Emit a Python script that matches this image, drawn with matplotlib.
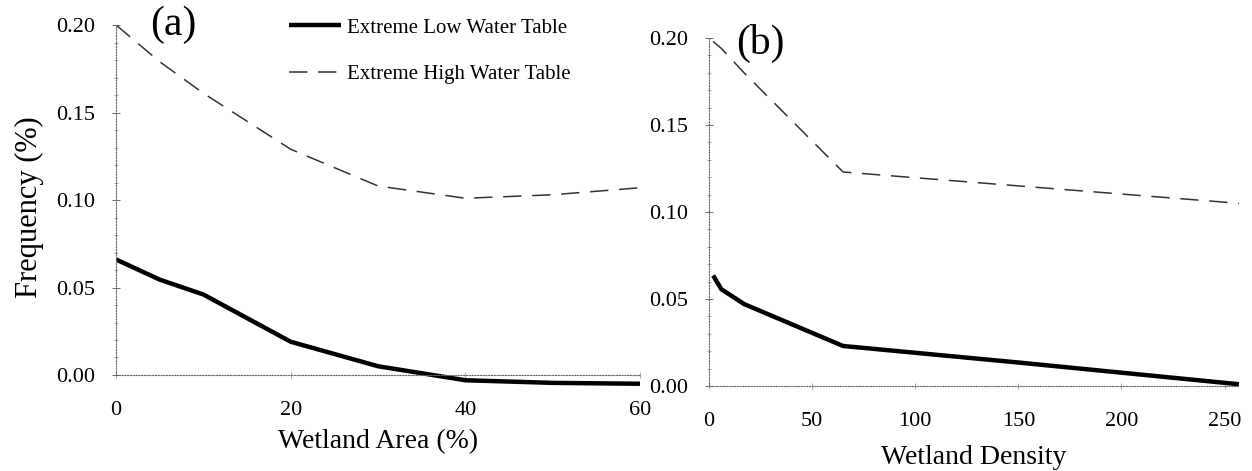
import matplotlib as mpl
mpl.use("Agg")
import matplotlib.pyplot as plt
from matplotlib.ticker import MultipleLocator

plt.rcParams['font.family'] = ['Liberation Serif', 'DejaVu Serif']

# (a) frequency against wetland area
area = [0, 5, 10, 20, 30, 40, 50, 60]
area_low = [0.066, 0.0545, 0.046, 0.019, 0.005, -0.003, -0.0045, -0.005]
area_high = [0.200, 0.179, 0.161, 0.129, 0.108, 0.101, 0.103, 0.107]

# (b) frequency against wetland density
density = [2, 6, 17, 65, 150, 257]
density_low = [0.0635, 0.0556, 0.0471, 0.023, 0.0135, 0.001]
density_high = [0.198, 0.194, 0.180, 0.123, 0.115, 0.105]

low_name = "Extreme Low Water Table"
high_name = "Extreme High Water Table"

fig = plt.figure(figsize=(12.52, 4.71), dpi=100)
ax1 = fig.add_axes([0.0927, 0.1741, 0.4185, 0.7728])
ax2 = fig.add_axes([0.5663, 0.1657, 0.4233, 0.7536])


def style_axes(ax):
    for side in ['top', 'right']:
        ax.spines[side].set_visible(False)
    for side in ['left', 'bottom']:
        sp = ax.spines[side]
        sp.set_position(('data', 0))
        sp.set_linestyle((0, (1, 1.5)))
        sp.set_linewidth(0.8)
        sp.set_color('#666666')
    ax.yaxis.set_major_locator(MultipleLocator(0.05))
    ax.yaxis.set_minor_locator(MultipleLocator(0.01))
    ax.yaxis.set_major_formatter(lambda v, p: f"{v:.2f}")
    ax.tick_params(axis='y', which='major', direction='inout', length=6,
                   width=0.6, color='#555555', labelsize=16, pad=12)
    ax.tick_params(axis='y', which='minor', direction='inout', length=3,
                   width=0.5, color='#888888')
    ax.tick_params(axis='x', which='major', direction='inout', length=4,
                   width=0.5, color='#888888', labelsize=16, pad=17)


ax1.plot(area, area_low, color='black', lw=3.2, solid_capstyle='butt',
         label=low_name)
ax1.plot(area, area_high, color='#333333', lw=1.1, dashes=(12, 7),
         label=high_name)
ax1.set_xlim(0, 60)
ax1.set_ylim(-0.008, 0.20)
ax1.xaxis.set_major_locator(MultipleLocator(20))
style_axes(ax1)
ax1.spines['left'].set_bounds(0, 0.20)
ax1.spines['bottom'].set_bounds(0, 60)
ax1.set_xlabel("Wetland Area (%)", fontsize=20, labelpad=6)
ax1.set_ylabel("Frequency (%)", fontsize=22, labelpad=9)
ax1.text(6.6, 0.2, "(a)", fontsize=30, va='center', ha='center')

ax2.plot(density, density_low, color='black', lw=3.2, solid_capstyle='butt')
ax2.plot(density, density_high, color='#333333', lw=1.1, dashes=(12, 7))
ax2.set_xlim(0, 257)
ax2.set_ylim(-0.004, 0.20)
ax2.xaxis.set_major_locator(MultipleLocator(50))
style_axes(ax2)
ax2.spines['left'].set_bounds(0, 0.20)
ax2.spines['bottom'].set_bounds(0, 257)
ax2.set_xlabel("Wetland Density", fontsize=20, labelpad=10)
ax2.text(25, 0.197, "(b)", fontsize=30, va='center', ha='center')

fig.legend(loc='upper left', bbox_to_anchor=(289 / 1252, 1 - 18 / 471),
           frameon=False, fontsize=15, handlelength=2.5, handletextpad=0.3,
           labelspacing=1.3, borderpad=0, borderaxespad=0)

fig.savefig("out.png", dpi=100)
